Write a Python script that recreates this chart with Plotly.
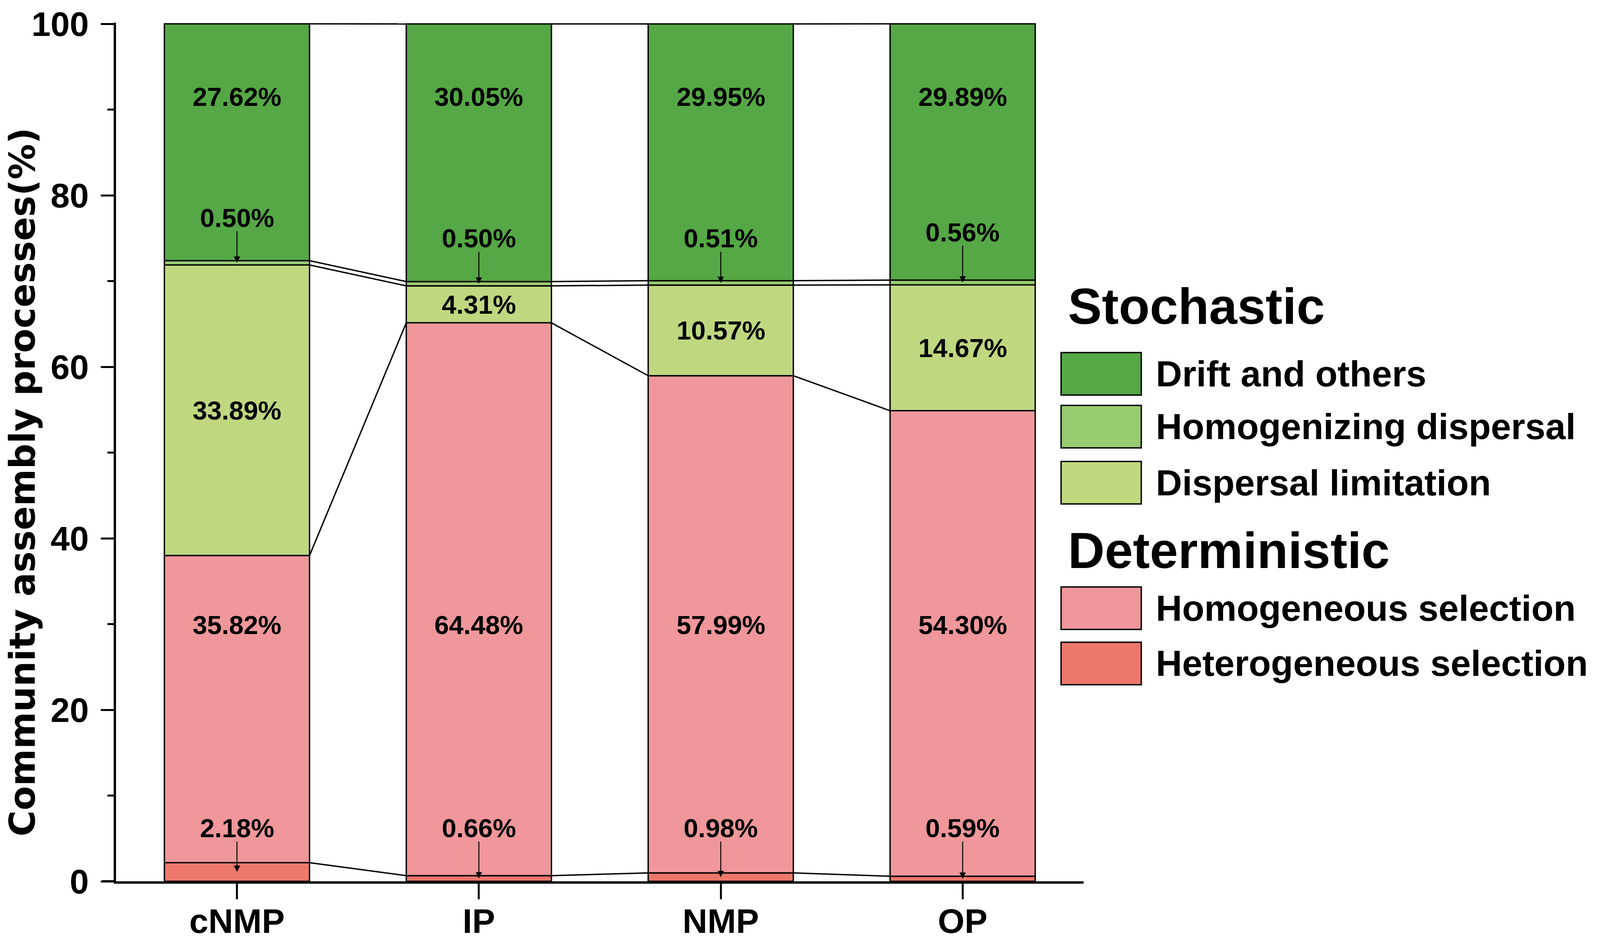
import plotly.graph_objects as go

# samples on the x axis
categories = ["cNMP", "IP", "NMP", "OP"]

# stacked from the bottom up (%)
heterogeneous_selection = [2.18, 0.66, 0.98, 0.59]
homogeneous_selection = [35.82, 64.48, 57.99, 54.30]
dispersal_limitation = [33.89, 4.31, 10.57, 14.67]
homogenizing_dispersal = [0.50, 0.50, 0.51, 0.56]
drift_and_others = [27.62, 30.05, 29.95, 29.89]

y_ticks = [0, 20, 40, 60, 80, 100]

layers = [
    ("Heterogeneous selection", heterogeneous_selection, "#EE776B"),
    ("Homogeneous selection", homogeneous_selection, "#EF979A"),
    ("Dispersal limitation", dispersal_limitation, "#BFD880"),
    ("Homogenizing dispersal", homogenizing_dispersal, "#98CB70"),
    ("Drift and others", drift_and_others, "#55A845"),
]

legend_groups = [
    ("Stochastic", ["Drift and others", "Homogenizing dispersal", "Dispersal limitation"]),
    ("Deterministic", ["Homogeneous selection", "Heterogeneous selection"]),
]

# the browser viewport is only 4096 wide, so squeeze the 4550-wide original
W, H = 4096, 2419
SX = W / 4550
L, R, T, B = 330 * SX, 1468 * SX, 44, 152
PW, PH = W - L - R, H - T - B
BAR_W = 0.6
FONT = "Liberation Sans, Arial, sans-serif"


def px_x(px):
    # px measured on the 4550 wide original
    return (px * SX - L) / PW


def px_y(py):
    return (H - B - py) / PH


x = list(range(len(categories)))
fig = go.Figure()

bottoms = [0.0] * len(categories)
levels = []
for name, vals, color in layers:
    fig.add_trace(go.Bar(
        x=x, y=vals, base=bottoms, name=name, width=BAR_W,
        marker=dict(color=color, line=dict(color="black", width=3.5)),
        showlegend=False,
    ))
    tops = [b + v for b, v in zip(bottoms, vals)]
    levels.append((bottoms, tops))
    bottoms = tops

# connecting lines between neighbouring bars at every stack boundary
for _, tops in levels:
    lx, ly = [], []
    for i in range(len(categories) - 1):
        lx += [i + BAR_W / 2, i + 1 - BAR_W / 2, None]
        ly += [tops[i], tops[i + 1], None]
    fig.add_trace(go.Scatter(
        x=lx, y=ly, mode="lines", line=dict(color="black", width=3.5),
        showlegend=False, hoverinfo="skip", cliponaxis=False,
    ))

# where the value labels sit
label_y = {
    "Heterogeneous selection": [6.2] * 4,
    "Homogeneous selection": [29.9] * 4,
    "Drift and others": [91.5] * 4,
    "Homogenizing dispersal": [77.4, 75.0, 75.0, 75.7],
}
arrowed = {"Heterogeneous selection", "Homogenizing dispersal"}

annotations = []
for (name, vals, _), (lo, hi) in zip(layers, levels):
    for i, v in enumerate(vals):
        mid = (lo[i] + hi[i]) / 2
        ty = label_y.get(name, [mid] * 4)[i]
        annotations.append(dict(
            x=i, y=ty, xref="x", yref="y", text=f"{v:.2f}%", showarrow=False,
            font=dict(family=FONT, size=67, color="black", weight="bold"),
            xanchor="center", yanchor="middle",
        ))
        if name in arrowed:
            annotations.append(dict(
                x=i, y=mid, ax=i, ay=ty - 1.5, xref="x", yref="y",
                axref="x", ayref="y", text="", showarrow=True,
                arrowhead=2, arrowsize=1.3, arrowwidth=2.5,
                arrowcolor="black", standoff=0,
            ))

# y axis title
annotations.append(dict(
    x=px_x(64), y=px_y(1233), xref="paper", yref="paper",
    text="Community assembly processes(%)", textangle=-90, showarrow=False,
    font=dict(family="DejaVu Sans", size=91, color="black", weight="bold"),
    xanchor="center", yanchor="middle",
))

# legend drawn by hand to get the large swatches
colors = {name: color for name, _, color in layers}
shapes = []
title_pos = {"Stochastic": 778, "Deterministic": 1410}
swatch_top = {
    "Drift and others": 898,
    "Homogenizing dispersal": 1035,
    "Dispersal limitation": 1180,
    "Homogeneous selection": 1505,
    "Heterogeneous selection": 1648,
}
for group, members in legend_groups:
    annotations.append(dict(
        x=px_x(3035), y=px_y(title_pos[group]), xref="paper", yref="paper",
        text=group, showarrow=False, xanchor="left", yanchor="middle",
        font=dict(family=FONT, size=130, color="black", weight="bold"),
    ))
    for name in members:
        top = swatch_top[name]
        shapes.append(dict(
            type="rect", xref="paper", yref="paper",
            x0=px_x(3018), x1=px_x(3246), y0=px_y(top), y1=px_y(top + 110),
            fillcolor=colors[name], line=dict(color="black", width=3.5),
        ))
        annotations.append(dict(
            x=px_x(3285), y=px_y(top + 55), xref="paper", yref="paper",
            text=name, showarrow=False, xanchor="left", yanchor="middle",
            font=dict(family=FONT, size=93, color="black", weight="bold"),
        ))

# x axis line runs a little past the y axis
shapes.append(dict(
    type="line", xref="paper", yref="y", x0=px_x(291), x1=0, y0=0, y1=0,
    line=dict(color="black", width=6),
))

fig.update_layout(
    width=W, height=H,
    margin=dict(l=L, r=R, t=T, b=B),
    plot_bgcolor="white", paper_bgcolor="white",
    barmode="overlay",
    showlegend=False,
    annotations=annotations,
    shapes=shapes,
    xaxis=dict(
        range=[-0.5, len(categories) - 0.5],
        tickvals=x, ticktext=categories,
        showgrid=False, zeroline=False,
        showline=True, linecolor="black", linewidth=6,
        ticks="outside", ticklen=40, tickwidth=5, tickcolor="black",
        ticklabelstandoff=-20,
        tickfont=dict(family=FONT, size=88, color="black", weight="bold"),
    ),
    yaxis=dict(
        range=[0, 100.15],
        tickvals=y_ticks,
        showgrid=False, zeroline=False,
        showline=True, linecolor="black", linewidth=6,
        ticks="outside", ticklen=33, tickwidth=5, tickcolor="black",
        ticklabelstandoff=13, ticklabeloverflow="allow",
        minor=dict(dtick=10, ticks="outside", ticklen=16, tickwidth=5,
                   tickcolor="black", showgrid=False),
        tickfont=dict(family=FONT, size=88, color="black", weight="bold"),
    ),
)

fig.write_html(
    "out.html",
    config={"displayModeBar": False},
    post_script="document.body.style.margin = '0';",
)
